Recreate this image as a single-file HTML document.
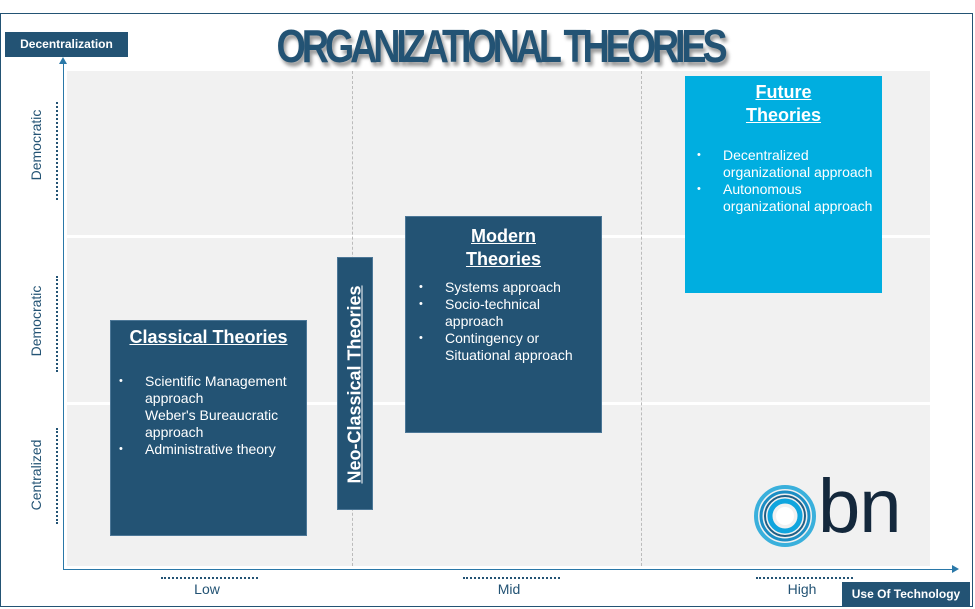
<!DOCTYPE html>
<html><head><meta charset="utf-8"><style>
*{margin:0;padding:0;box-sizing:border-box}
body{width:975px;height:609px;background:#fff;position:relative;overflow:hidden;font-family:"Liberation Sans",sans-serif}
.a{position:absolute}
.dk{background:#235374;color:#fff}
.cell{position:absolute;background:#f1f1f1}
.vd{position:absolute;width:0;border-left:1px dashed #bbb}
.ylab{position:absolute;color:#235374;font-size:14px;transform:rotate(-90deg);transform-origin:center;white-space:nowrap;width:120px;text-align:center}
.ydot{position:absolute;width:0;border-left:2px dotted #235374}
.xdot{position:absolute;height:0;border-top:2px dotted #235374}
.xlab{position:absolute;color:#235374;font-size:14px;text-align:center;width:100px}
.ttl{font-weight:bold;text-decoration:underline;font-size:18px;text-align:center;line-height:23px}
ul{list-style:none;font-size:14px;line-height:17px}
li{position:relative;padding-left:34px}
li.b::before{content:"•";position:absolute;left:8px;font-size:11px}
</style></head><body>
<div class="a" style="left:0;top:13px;width:973px;height:594px;border:1.5px solid #235374"></div>
<div class="cell" style="left:67px;top:71px;width:863px;height:164px"></div>
<div class="cell" style="left:67px;top:238px;width:863px;height:164px"></div>
<div class="cell" style="left:67px;top:405px;width:863px;height:161px"></div>
<div class="vd" style="left:352px;top:71px;height:495px"></div>
<div class="vd" style="left:641px;top:71px;height:495px"></div>
<div class="a" style="left:63px;top:62px;width:1px;height:507px;background:#2a78a8"></div>
<div class="a" style="left:59px;top:57px;width:0;height:0;border-left:4px solid transparent;border-right:4px solid transparent;border-bottom:7px solid #2a78a8"></div>
<div class="a" style="left:63px;top:569px;width:890px;height:1px;background:#2a78a8"></div>
<div class="a" style="left:952px;top:565px;width:0;height:0;border-top:4px solid transparent;border-bottom:4px solid transparent;border-left:7px solid #2a78a8"></div>
<div class="a dk" style="left:5px;top:32px;width:123px;height:25px;font-size:12px;font-weight:bold;line-height:25px;text-align:center">Decentralization</div>
<div class="a" style="left:150px;top:20px;width:700px;text-align:center;font-size:46px;font-weight:bold;color:#235374;letter-spacing:-5px;transform:scaleX(0.82);text-shadow:3px 4px 4px #999;line-height:52px">ORGANIZATIONAL THEORIES</div>
<div class="ylab" style="left:-24px;top:137px">Democratic</div>
<div class="ylab" style="left:-24px;top:313px">Democratic</div>
<div class="ylab" style="left:-24px;top:467px">Centralized</div>
<div class="ydot" style="left:56px;top:102px;height:98px"></div>
<div class="ydot" style="left:56px;top:276px;height:96px"></div>
<div class="ydot" style="left:56px;top:428px;height:96px"></div>
<div class="xdot" style="left:161px;top:577px;width:97px"></div>
<div class="xdot" style="left:463px;top:577px;width:97px"></div>
<div class="xdot" style="left:756px;top:577px;width:97px"></div>
<div class="xlab" style="left:157px;top:581px">Low</div>
<div class="xlab" style="left:459px;top:581px">Mid</div>
<div class="xlab" style="left:752px;top:581px">High</div>
<div class="a dk" style="left:842px;top:582px;width:128px;height:24px;font-size:12px;font-weight:bold;line-height:24px;text-align:center">Use Of Technology</div>

<div class="a dk" style="left:110px;top:320px;width:197px;height:216px;border:1px solid #4c7797">
<div class="ttl" style="margin-top:5px">Classical Theories </div>
<ul style="margin-top:24px;padding-right:10px"><li class="b">Scientific Management approach</li><li>Weber's Bureaucratic approach</li><li class="b">Administrative theory</li></ul>
</div>
<div class="a dk" style="left:337px;top:257px;width:36px;height:253px;border:1px solid #4c7797">
<div class="ttl" style="position:absolute;left:-108px;top:115px;width:250px;transform:rotate(-90deg)">Neo-Classical Theories</div>
</div>
<div class="a dk" style="left:405px;top:216px;width:197px;height:217px;border:1px solid #4c7797">
<div class="ttl" style="margin-top:8px">Modern <br>Theories </div>
<ul style="margin-top:8px;padding-left:5px;padding-right:20px"><li class="b">Systems approach</li><li class="b">Socio-technical approach</li><li class="b">Contingency or Situational approach</li></ul>
</div>
<div class="a" style="left:685px;top:76px;width:197px;height:217px;background:#00aee0;color:#fff">
<div class="ttl" style="margin-top:5px">Future<br>Theories</div>
<ul style="margin-top:20px;padding-left:4px;padding-right:8px"><li class="b">Decentralized organizational approach</li><li class="b">Autonomous organizational approach</li></ul>
</div>
<svg class="a" style="left:752px;top:482px" width="70" height="70" viewBox="0 0 70 70">
<circle cx="33" cy="34" r="29" fill="none" stroke="#3ab0dc" stroke-width="4"/>
<circle cx="33" cy="34" r="24" fill="none" stroke="#1b8ec4" stroke-width="3"/>
<circle cx="33" cy="34" r="20" fill="none" stroke="#1f5f86" stroke-width="2"/>
<circle cx="33" cy="34" r="15" fill="none" stroke="#0fa5de" stroke-width="5"/>
<circle cx="33" cy="34" r="9" fill="#fff"/>
</svg>
<div class="a" style="left:818px;top:462px;font-size:76px;color:#14283c;line-height:90px;letter-spacing:-1px">bn</div>
</body></html>
